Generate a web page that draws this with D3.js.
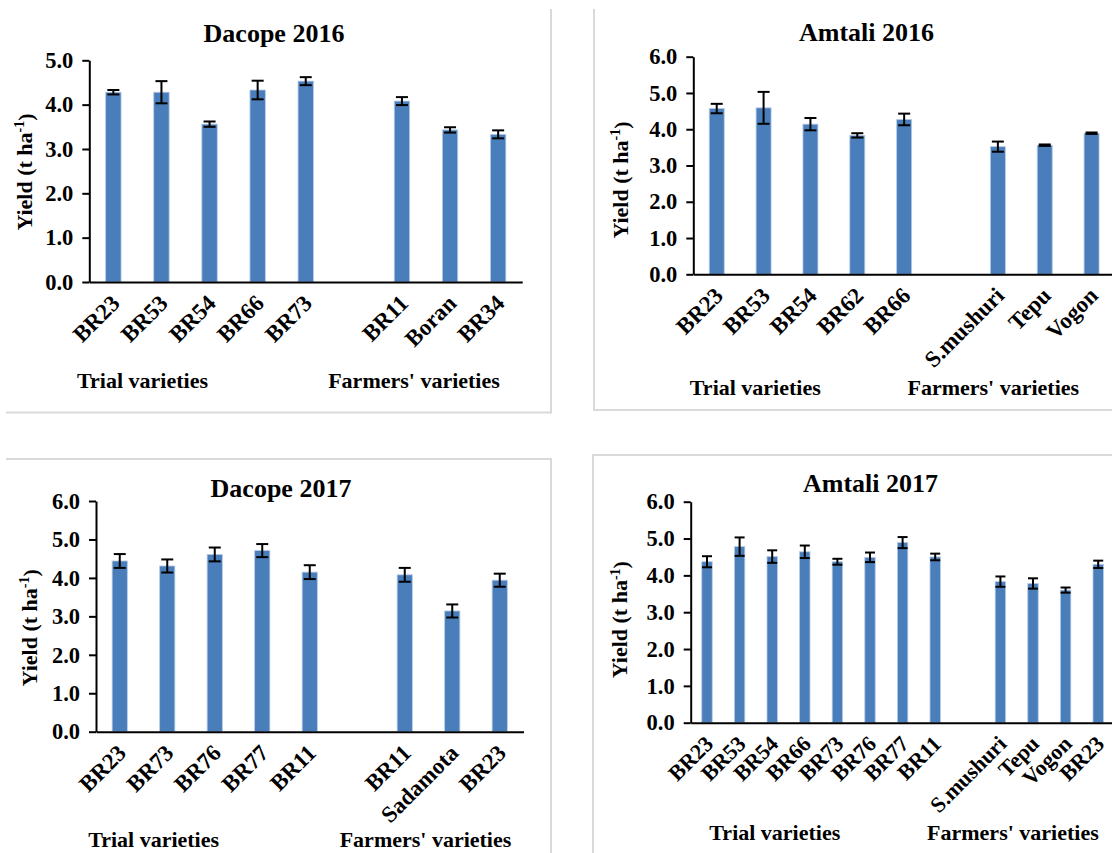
<!DOCTYPE html>
<html>
<head>
<meta charset="utf-8">
<script src="https://cdn.jsdelivr.net/npm/d3@7"></script>
<style>
  html, body { margin: 0; padding: 0; background: #ffffff; }
  svg { display: block; }
  text { font-family: "Liberation Serif", "Times New Roman", serif; font-weight: bold; fill: #000; }
</style>
</head>
<body>
<svg id="chart" width="1112" height="853"></svg>
<script>
// ---- Yield data (t/ha), mean and error per variety ----
const dacope2016Trial = ["BR23", "BR53", "BR54", "BR66", "BR73"];
const dacope2016TrialYield = [4.28, 4.28, 3.56, 4.33, 4.53];
const dacope2016TrialErr = [0.05, 0.25, 0.06, 0.21, 0.09];
const dacope2016Farmers = ["BR11", "Boran", "BR34"];
const dacope2016FarmersYield = [4.08, 3.43, 3.33];
const dacope2016FarmersErr = [0.09, 0.06, 0.09];

const amtali2016Trial = ["BR23", "BR53", "BR54", "BR62", "BR66"];
const amtali2016TrialYield = [4.57, 4.59, 4.14, 3.83, 4.27];
const amtali2016TrialErr = [0.13, 0.44, 0.17, 0.06, 0.16];
const amtali2016Farmers = ["S.mushuri", "Tepu", "Vogon"];
const amtali2016FarmersYield = [3.52, 3.56, 3.89];
const amtali2016FarmersErr = [0.14, 0.02, 0.02];

const dacope2017Trial = ["BR23", "BR73", "BR76", "BR77", "BR11"];
const dacope2017TrialYield = [4.44, 4.31, 4.61, 4.71, 4.15];
const dacope2017TrialErr = [0.18, 0.17, 0.18, 0.17, 0.18];
const dacope2017Farmers = ["BR11", "Sadamota", "BR23"];
const dacope2017FarmersYield = [4.08, 3.14, 3.94];
const dacope2017FarmersErr = [0.18, 0.17, 0.17];

const amtali2017Trial = ["BR23", "BR53", "BR54", "BR66", "BR73", "BR76", "BR77", "BR11"];
const amtali2017TrialYield = [4.37, 4.78, 4.51, 4.64, 4.37, 4.49, 4.89, 4.50];
const amtali2017TrialErr = [0.15, 0.25, 0.17, 0.17, 0.08, 0.13, 0.15, 0.09];
const amtali2017Farmers = ["S.mushuri", "Tepu", "Vogon", "BR23"];
const amtali2017FarmersYield = [3.83, 3.78, 3.60, 4.30];
const amtali2017FarmersErr = [0.14, 0.14, 0.07, 0.10];

const groupNames = ["Trial varieties", "Farmers' varieties"];
const yAxisTitle = "Yield (t ha";
const yAxisSup = "-1";

// ---- Panel layout ----
const panels = [
  {
    title: "Dacope 2016", yMax: 5,
    trial: dacope2016Trial, trialY: dacope2016TrialYield, trialE: dacope2016TrialErr,
    farm: dacope2016Farmers, farmY: dacope2016FarmersYield, farmE: dacope2016FarmersErr,
    x0: 89.3, x1: 522.2, yTop: 60.3, yBot: 282, cap: 12, labFont: 23,
    titleXY: [274, 41.7], yLabXY: [32, 172],
    groupXY: [[142.5, 388], [414, 388]],
    frame: [[[551, 9], [551, 412.5], [6, 412.5]]]
  },
  {
    title: "Amtali 2016", yMax: 6,
    trial: amtali2016Trial, trialY: amtali2016TrialYield, trialE: amtali2016TrialErr,
    farm: amtali2016Farmers, farmY: amtali2016FarmersYield, farmE: amtali2016FarmersErr,
    x0: 693.3, x1: 1115, yTop: 56.7, yBot: 274.3, cap: 12, labFont: 23,
    titleXY: [866.5, 40.7], yLabXY: [628, 180],
    groupXY: [[755.3, 395], [993.3, 395]],
    frame: [[[594, 9], [594, 410], [1112, 410]]]
  },
  {
    title: "Dacope 2017", yMax: 6,
    trial: dacope2017Trial, trialY: dacope2017TrialYield, trialE: dacope2017TrialErr,
    farm: dacope2017Farmers, farmY: dacope2017FarmersYield, farmE: dacope2017FarmersErr,
    x0: 96, x1: 523.5, yTop: 501, yBot: 731.7, cap: 12, labFont: 23,
    titleXY: [281, 496.7], yLabXY: [36.7, 627.8],
    groupXY: [[153.6, 847], [425.5, 847]],
    frame: [[[6, 459], [551, 459], [551, 853]]]
  },
  {
    title: "Amtali 2017", yMax: 6,
    trial: amtali2017Trial, trialY: amtali2017TrialYield, trialE: amtali2017TrialErr,
    farm: amtali2017Farmers, farmY: amtali2017FarmersYield, farmE: amtali2017FarmersErr,
    x0: 690.7, x1: 1114.5, yTop: 501.7, yBot: 722.7, cap: 10, labFont: 22,
    titleXY: [870.5, 491.7], yLabXY: [627.3, 619.7],
    groupXY: [[774.8, 840], [1012.9, 840]],
    frame: [[[1112, 455], [593, 455], [593, 853]]]
  }
];

const svg = d3.select("#chart");
const barColor = "#4a7ebb";
const serif = "'Liberation Serif', 'Times New Roman', serif";

panels.forEach(p => {
  // one slot per variety, with an empty slot separating the two groups
  const rows = [];
  p.trial.forEach((name, i) => rows.push({ key: "t" + i, name, v: p.trialY[i], e: p.trialE[i] }));
  p.farm.forEach((name, i) => rows.push({ key: "f" + i, name, v: p.farmY[i], e: p.farmE[i] }));
  const domain = rows.slice(0, p.trial.length).map(d => d.key)
    .concat(["gap"], rows.slice(p.trial.length).map(d => d.key));

  const x = d3.scaleBand().domain(domain).range([p.x0, p.x1]).paddingInner(0.68).paddingOuter(0.34);
  const y = d3.scaleLinear().domain([0, p.yMax]).range([p.yBot, p.yTop]);
  const g = svg.append("g");

  // frame
  p.frame.forEach(pts => {
    g.append("path").attr("d", d3.line()(pts))
      .attr("fill", "none").attr("stroke", "#d9d9d9").attr("stroke-width", 2);
  });

  // bars
  g.selectAll("rect.bar").data(rows).join("rect")
    .attr("class", "bar")
    .attr("x", d => x(d.key))
    .attr("width", x.bandwidth())
    .attr("y", d => y(d.v))
    .attr("height", d => y(0) - y(d.v))
    .attr("fill", barColor)
    .attr("stroke", "#b7cbe6")
    .attr("stroke-width", 0.8);

  // error bars
  const cx = d => x(d.key) + x.bandwidth() / 2;
  const eb = g.selectAll("g.err").data(rows).join("g").attr("class", "err")
    .attr("stroke", "#000").attr("stroke-width", 2);
  eb.append("line")
    .attr("x1", cx).attr("x2", cx)
    .attr("y1", d => y(d.v + d.e)).attr("y2", d => y(d.v - d.e));
  eb.append("line")
    .attr("x1", d => cx(d) - p.cap / 2).attr("x2", d => cx(d) + p.cap / 2)
    .attr("y1", d => y(d.v + d.e)).attr("y2", d => y(d.v + d.e));
  eb.append("line")
    .attr("x1", d => cx(d) - p.cap / 2).attr("x2", d => cx(d) + p.cap / 2)
    .attr("y1", d => y(d.v - d.e)).attr("y2", d => y(d.v - d.e));

  // y axis
  const yAxis = d3.axisLeft(y).tickValues(d3.range(0, p.yMax + 0.001, 1))
    .tickFormat(d3.format(".1f")).tickSize(7).tickSizeOuter(0).tickPadding(9);
  const ya = g.append("g").attr("transform", `translate(${p.x0},0)`).call(yAxis);
  ya.select(".domain").attr("stroke", "#000").attr("stroke-width", 2);
  ya.selectAll(".tick line").attr("stroke", "#000").attr("stroke-width", 2);
  ya.selectAll(".tick text").attr("font-size", 22.5)
    .attr("font-family", serif).attr("font-weight", "bold").attr("fill", "#000");

  // x axis (no ticks), rotated category labels
  const xAxis = d3.axisBottom(x).tickSize(0).tickSizeOuter(0)
    .tickFormat(k => { const r = rows.find(d => d.key === k); return r ? r.name : ""; });
  const xa = g.append("g").attr("transform", `translate(0,${p.yBot})`).call(xAxis);
  xa.select(".domain").attr("stroke", "#000").attr("stroke-width", 2);
  xa.selectAll(".tick text")
    .attr("font-size", p.labFont)
    .attr("font-family", serif).attr("font-weight", "bold").attr("fill", "#000")
    .attr("text-anchor", "end")
    .attr("x", 0).attr("y", 0).attr("dy", "0.35em")
    .attr("transform", "translate(2,17) rotate(-45)");

  // title
  g.append("text").attr("x", p.titleXY[0]).attr("y", p.titleXY[1])
    .attr("text-anchor", "middle").attr("font-size", 26).text(p.title);

  // y axis title with superscript unit
  const yl = g.append("text")
    .attr("transform", `translate(${p.yLabXY[0]},${p.yLabXY[1]}) rotate(-90)`)
    .attr("text-anchor", "middle").attr("font-size", 22);
  yl.append("tspan").text(yAxisTitle);
  yl.append("tspan").attr("font-size", 14).attr("dy", "-0.55em").text(yAxisSup);
  yl.append("tspan").attr("dy", "0.39em").text(")");

  // group labels
  groupNames.forEach((name, i) => {
    g.append("text").attr("x", p.groupXY[i][0]).attr("y", p.groupXY[i][1])
      .attr("text-anchor", "middle").attr("font-size", 22).text(name);
  });
});
</script>
</body>
</html>
